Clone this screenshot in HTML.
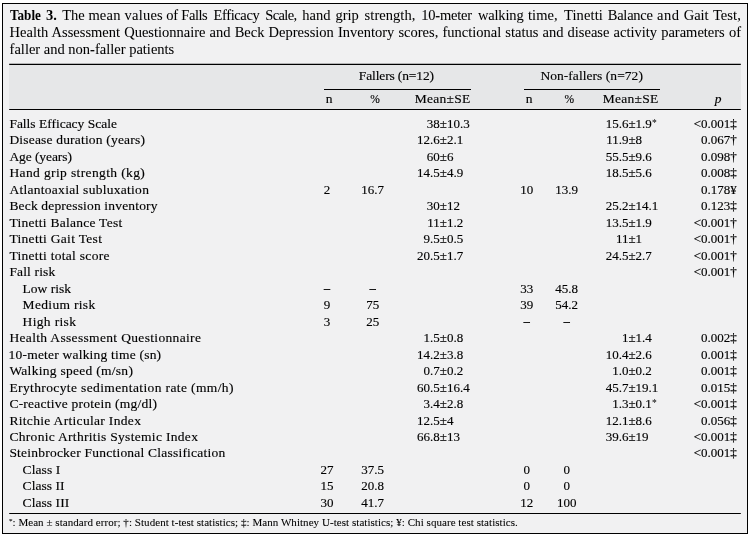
<!DOCTYPE html>
<html><head><meta charset="utf-8"><title>Table 3</title>
<style>
html,body{margin:0;padding:0;background:#fff;}
body{width:750px;height:538px;position:relative;overflow:hidden;font-family:"Liberation Serif",serif;color:#000;}
.box{position:absolute;left:2px;top:3px;width:744px;height:529px;border:1px solid #000;background:#f1f1f2;}
.hd{position:absolute;left:9px;top:64px;width:732px;height:46px;background:#e6e7e8;}
svg.rules{position:absolute;left:0;top:0;}
.txt{position:absolute;left:0;top:0;width:750px;height:538px;will-change:transform;}
.t{position:absolute;white-space:pre;line-height:16px;font-size:13.5px;-webkit-text-stroke:0.15px #000;}
.ti{position:absolute;left:9.6px;width:731.4px;white-space:nowrap;font-size:14.5px;line-height:17px;-webkit-text-stroke:0.05px #000;}
.j{text-align:justify;text-align-last:justify;}
.t b{font-weight:bold;-webkit-text-stroke:0;}
.st{font-size:9.5px;position:relative;top:-2px;margin-left:0.3px;letter-spacing:0;-webkit-text-stroke:0}
.fst{font-size:7px;position:relative;top:-3.4px;letter-spacing:0}
</style></head><body>
<div class="box"></div>
<div class="hd"></div>
<svg class="rules" width="750" height="538" viewBox="0 0 750 538">
<g stroke="#000" stroke-width="1.15" fill="none">
<line x1="9.2" y1="64.45" x2="740.8" y2="64.45"/>
<line x1="9.2" y1="109.45" x2="740.8" y2="109.45"/>
<line x1="9.2" y1="513.45" x2="740.8" y2="513.45"/>
<line x1="324" y1="89.45" x2="471" y2="89.45"/>
<line x1="524" y1="89.45" x2="660" y2="89.45"/>
</g></svg>
<div class="txt">
<span class="t" style="top:7.00px;font-size:14.5px;line-height:17px;-webkit-text-stroke:0.05px #000;left:10.40px;transform:scaleX(0.905);transform-origin:0 0;"><b>Table</b></span>
<span class="t" style="top:7.00px;font-size:14.5px;line-height:17px;-webkit-text-stroke:0.05px #000;left:45.90px;"><b>3.</b></span>
<span class="t" style="top:7.00px;font-size:14.5px;line-height:17px;-webkit-text-stroke:0.05px #000;left:62.20px;letter-spacing:-0.073px;">The</span>
<span class="t" style="top:7.00px;font-size:14.5px;line-height:17px;-webkit-text-stroke:0.05px #000;left:88.40px;letter-spacing:0.198px;">mean</span>
<span class="t" style="top:7.00px;font-size:14.5px;line-height:17px;-webkit-text-stroke:0.05px #000;left:124.60px;letter-spacing:0.211px;">values</span>
<span class="t" style="top:7.00px;font-size:14.5px;line-height:17px;-webkit-text-stroke:0.05px #000;left:166.30px;letter-spacing:-0.294px;">of</span>
<span class="t" style="top:7.00px;font-size:14.5px;line-height:17px;-webkit-text-stroke:0.05px #000;left:181.30px;letter-spacing:-0.451px;">Falls</span>
<span class="t" style="top:7.00px;font-size:14.5px;line-height:17px;-webkit-text-stroke:0.05px #000;left:213.60px;letter-spacing:-0.392px;">Efficacy</span>
<span class="t" style="top:7.00px;font-size:14.5px;line-height:17px;-webkit-text-stroke:0.05px #000;left:265.30px;letter-spacing:-0.646px;">Scale,</span>
<span class="t" style="top:7.00px;font-size:14.5px;line-height:17px;-webkit-text-stroke:0.05px #000;left:302.30px;letter-spacing:-0.029px;">hand</span>
<span class="t" style="top:7.00px;font-size:14.5px;line-height:17px;-webkit-text-stroke:0.05px #000;left:335.60px;letter-spacing:-0.086px;">grip</span>
<span class="t" style="top:7.00px;font-size:14.5px;line-height:17px;-webkit-text-stroke:0.05px #000;left:364.60px;letter-spacing:0.057px;">strength,</span>
<span class="t" style="top:7.00px;font-size:14.5px;line-height:17px;-webkit-text-stroke:0.05px #000;left:421.30px;letter-spacing:-0.221px;">10-meter</span>
<span class="t" style="top:7.00px;font-size:14.5px;line-height:17px;-webkit-text-stroke:0.05px #000;left:477.90px;letter-spacing:-0.153px;">walking</span>
<span class="t" style="top:7.00px;font-size:14.5px;line-height:17px;-webkit-text-stroke:0.05px #000;left:527.90px;letter-spacing:0.098px;">time,</span>
<span class="t" style="top:7.00px;font-size:14.5px;line-height:17px;-webkit-text-stroke:0.05px #000;left:563.90px;letter-spacing:0.141px;">Tinetti</span>
<span class="t" style="top:7.00px;font-size:14.5px;line-height:17px;-webkit-text-stroke:0.05px #000;left:607.80px;letter-spacing:-0.267px;">Balance</span>
<span class="t" style="top:7.00px;font-size:14.5px;line-height:17px;-webkit-text-stroke:0.05px #000;left:657.10px;letter-spacing:0.481px;">and</span>
<span class="t" style="top:7.00px;font-size:14.5px;line-height:17px;-webkit-text-stroke:0.05px #000;left:683.70px;letter-spacing:-0.023px;">Gait</span>
<span class="t" style="top:7.00px;font-size:14.5px;line-height:17px;-webkit-text-stroke:0.05px #000;left:712.90px;letter-spacing:0.080px;">Test,</span>
<div class="ti j" style="top:24.00px">Health Assessment Questionnaire and Beck Depression Inventory scores, functional status and disease activity parameters of</div>
<div class="ti" style="top:41.00px">faller and non-faller patients</div>
<span class="t" style="top:116.00px;left:9.40px;letter-spacing:-0.012px;">Falls Efficacy Scale</span>
<span class="t" style="top:132.00px;left:9.40px;letter-spacing:0.187px;">Disease duration (years)</span>
<span class="t" style="top:149.00px;left:9.40px;letter-spacing:-0.084px;">Age (years)</span>
<span class="t" style="top:165.00px;left:9.40px;letter-spacing:0.381px;">Hand grip strength (kg)</span>
<span class="t" style="top:182.00px;left:9.40px;letter-spacing:0.278px;">Atlantoaxial subluxation</span>
<span class="t" style="top:198.00px;left:9.40px;letter-spacing:0.172px;">Beck depression inventory</span>
<span class="t" style="top:215.00px;left:9.40px;letter-spacing:0.263px;">Tinetti Balance Test</span>
<span class="t" style="top:231.00px;left:9.40px;letter-spacing:0.308px;">Tinetti Gait Test</span>
<span class="t" style="top:248.00px;left:9.40px;letter-spacing:0.297px;">Tinetti total score</span>
<span class="t" style="top:264.00px;left:9.40px;letter-spacing:0.145px;">Fall risk</span>
<span class="t" style="top:281.00px;left:22.60px;letter-spacing:-0.011px;">Low risk</span>
<span class="t" style="top:297.00px;left:22.60px;letter-spacing:0.322px;">Medium risk</span>
<span class="t" style="top:314.00px;left:22.60px;letter-spacing:0.334px;">High risk</span>
<span class="t" style="top:330.00px;left:9.40px;letter-spacing:0.334px;">Health Assessment Questionnaire</span>
<span class="t" style="top:347.00px;left:8.60px;letter-spacing:0.206px;">10-meter walking time (sn)</span>
<span class="t" style="top:363.00px;left:9.40px;letter-spacing:0.282px;">Walking speed (m/sn)</span>
<span class="t" style="top:380.00px;left:9.40px;letter-spacing:0.383px;">Erythrocyte sedimentation rate (mm/h)</span>
<span class="t" style="top:396.00px;left:9.40px;letter-spacing:0.232px;">C-reactive protein (mg/dl)</span>
<span class="t" style="top:413.00px;left:9.40px;letter-spacing:0.320px;">Ritchie Articular Index</span>
<span class="t" style="top:429.00px;left:9.40px;letter-spacing:0.311px;">Chronic Arthritis Systemic Index</span>
<span class="t" style="top:445.00px;left:9.40px;letter-spacing:0.218px;">Steinbrocker Functional Classification</span>
<span class="t" style="top:462.00px;left:22.60px;letter-spacing:0.079px;">Class I</span>
<span class="t" style="top:478.00px;left:22.60px;letter-spacing:0.039px;">Class II</span>
<span class="t" style="top:495.00px;left:22.60px;letter-spacing:0.059px;">Class III</span>
<span class="t" style="top:116.00px;font-size:13px;right:310.20px;">38</span>
<span class="t" style="top:116.00px;font-size:13px;left:439.80px;">±10.3</span>
<span class="t" style="top:116.00px;font-size:13px;right:121.60px;">15.6</span>
<span class="t" style="top:116.00px;font-size:13px;left:628.40px;">±1.9<span class="st">*</span></span>
<span class="t" style="top:116.00px;font-size:13px;right:13.20px;">&lt;0.001‡</span>
<span class="t" style="top:132.00px;font-size:13px;right:310.20px;">12.6</span>
<span class="t" style="top:132.00px;font-size:13px;left:439.80px;">±2.1</span>
<span class="t" style="top:132.00px;font-size:13px;right:121.60px;">11.9</span>
<span class="t" style="top:132.00px;font-size:13px;left:628.40px;">±8</span>
<span class="t" style="top:132.00px;font-size:13px;right:13.20px;">0.067†</span>
<span class="t" style="top:149.00px;font-size:13px;right:310.20px;">60</span>
<span class="t" style="top:149.00px;font-size:13px;left:439.80px;">±6</span>
<span class="t" style="top:149.00px;font-size:13px;right:121.60px;">55.5</span>
<span class="t" style="top:149.00px;font-size:13px;left:628.40px;">±9.6</span>
<span class="t" style="top:149.00px;font-size:13px;right:13.20px;">0.098†</span>
<span class="t" style="top:165.00px;font-size:13px;right:310.20px;">14.5</span>
<span class="t" style="top:165.00px;font-size:13px;left:439.80px;">±4.9</span>
<span class="t" style="top:165.00px;font-size:13px;right:121.60px;">18.5</span>
<span class="t" style="top:165.00px;font-size:13px;left:628.40px;">±5.6</span>
<span class="t" style="top:165.00px;font-size:13px;right:13.20px;">0.008‡</span>
<span class="t" style="top:182.00px;font-size:13px;left:287.00px;width:80px;text-align:center;">2</span>
<span class="t" style="top:182.00px;font-size:13px;left:332.70px;width:80px;text-align:center;">16.7</span>
<span class="t" style="top:182.00px;font-size:13px;left:486.70px;width:80px;text-align:center;">10</span>
<span class="t" style="top:182.00px;font-size:13px;left:526.70px;width:80px;text-align:center;">13.9</span>
<span class="t" style="top:182.00px;font-size:13px;right:13.20px;">0.178¥</span>
<span class="t" style="top:198.00px;font-size:13px;right:310.20px;">30</span>
<span class="t" style="top:198.00px;font-size:13px;left:439.80px;">±12</span>
<span class="t" style="top:198.00px;font-size:13px;right:121.60px;">25.2</span>
<span class="t" style="top:198.00px;font-size:13px;left:628.40px;">±14.1</span>
<span class="t" style="top:198.00px;font-size:13px;right:13.20px;">0.123‡</span>
<span class="t" style="top:215.00px;font-size:13px;right:310.20px;">11</span>
<span class="t" style="top:215.00px;font-size:13px;left:439.80px;">±1.2</span>
<span class="t" style="top:215.00px;font-size:13px;right:121.60px;">13.5</span>
<span class="t" style="top:215.00px;font-size:13px;left:628.40px;">±1.9</span>
<span class="t" style="top:215.00px;font-size:13px;right:13.20px;">&lt;0.001†</span>
<span class="t" style="top:231.00px;font-size:13px;right:310.20px;">9.5</span>
<span class="t" style="top:231.00px;font-size:13px;left:439.80px;">±0.5</span>
<span class="t" style="top:231.00px;font-size:13px;right:121.60px;">11</span>
<span class="t" style="top:231.00px;font-size:13px;left:628.40px;">±1</span>
<span class="t" style="top:231.00px;font-size:13px;right:13.20px;">&lt;0.001†</span>
<span class="t" style="top:248.00px;font-size:13px;right:310.20px;">20.5</span>
<span class="t" style="top:248.00px;font-size:13px;left:439.80px;">±1.7</span>
<span class="t" style="top:248.00px;font-size:13px;right:121.60px;">24.5</span>
<span class="t" style="top:248.00px;font-size:13px;left:628.40px;">±2.7</span>
<span class="t" style="top:248.00px;font-size:13px;right:13.20px;">&lt;0.001†</span>
<span class="t" style="top:264.00px;font-size:13px;right:13.20px;">&lt;0.001†</span>
<span class="t" style="top:280.00px;font-size:12px;left:287.00px;width:80px;text-align:center;-webkit-text-stroke:0.4px #000;">–</span>
<span class="t" style="top:280.00px;font-size:12px;left:332.70px;width:80px;text-align:center;-webkit-text-stroke:0.4px #000;">–</span>
<span class="t" style="top:281.00px;font-size:13px;left:486.70px;width:80px;text-align:center;">33</span>
<span class="t" style="top:281.00px;font-size:13px;left:526.70px;width:80px;text-align:center;">45.8</span>
<span class="t" style="top:297.00px;font-size:13px;left:287.00px;width:80px;text-align:center;">9</span>
<span class="t" style="top:297.00px;font-size:13px;left:332.70px;width:80px;text-align:center;">75</span>
<span class="t" style="top:297.00px;font-size:13px;left:486.70px;width:80px;text-align:center;">39</span>
<span class="t" style="top:297.00px;font-size:13px;left:526.70px;width:80px;text-align:center;">54.2</span>
<span class="t" style="top:314.00px;font-size:13px;left:287.00px;width:80px;text-align:center;">3</span>
<span class="t" style="top:314.00px;font-size:13px;left:332.70px;width:80px;text-align:center;">25</span>
<span class="t" style="top:313.00px;font-size:12px;left:486.70px;width:80px;text-align:center;-webkit-text-stroke:0.4px #000;">–</span>
<span class="t" style="top:313.00px;font-size:12px;left:526.70px;width:80px;text-align:center;-webkit-text-stroke:0.4px #000;">–</span>
<span class="t" style="top:330.00px;font-size:13px;right:310.20px;">1.5</span>
<span class="t" style="top:330.00px;font-size:13px;left:439.80px;">±0.8</span>
<span class="t" style="top:330.00px;font-size:13px;right:121.60px;">1</span>
<span class="t" style="top:330.00px;font-size:13px;left:628.40px;">±1.4</span>
<span class="t" style="top:330.00px;font-size:13px;right:13.20px;">0.002‡</span>
<span class="t" style="top:347.00px;font-size:13px;right:310.20px;">14.2</span>
<span class="t" style="top:347.00px;font-size:13px;left:439.80px;">±3.8</span>
<span class="t" style="top:347.00px;font-size:13px;right:121.60px;">10.4</span>
<span class="t" style="top:347.00px;font-size:13px;left:628.40px;">±2.6</span>
<span class="t" style="top:347.00px;font-size:13px;right:13.20px;">0.001‡</span>
<span class="t" style="top:363.00px;font-size:13px;right:310.20px;">0.7</span>
<span class="t" style="top:363.00px;font-size:13px;left:439.80px;">±0.2</span>
<span class="t" style="top:363.00px;font-size:13px;right:121.60px;">1.0</span>
<span class="t" style="top:363.00px;font-size:13px;left:628.40px;">±0.2</span>
<span class="t" style="top:363.00px;font-size:13px;right:13.20px;">0.001‡</span>
<span class="t" style="top:380.00px;font-size:13px;right:310.20px;">60.5</span>
<span class="t" style="top:380.00px;font-size:13px;left:439.80px;">±16.4</span>
<span class="t" style="top:380.00px;font-size:13px;right:121.60px;">45.7</span>
<span class="t" style="top:380.00px;font-size:13px;left:628.40px;">±19.1</span>
<span class="t" style="top:380.00px;font-size:13px;right:13.20px;">0.015‡</span>
<span class="t" style="top:396.00px;font-size:13px;right:310.20px;">3.4</span>
<span class="t" style="top:396.00px;font-size:13px;left:439.80px;">±2.8</span>
<span class="t" style="top:396.00px;font-size:13px;right:121.60px;">1.3</span>
<span class="t" style="top:396.00px;font-size:13px;left:628.40px;">±0.1<span class="st">*</span></span>
<span class="t" style="top:396.00px;font-size:13px;right:13.20px;">&lt;0.001‡</span>
<span class="t" style="top:413.00px;font-size:13px;right:310.20px;">12.5</span>
<span class="t" style="top:413.00px;font-size:13px;left:439.80px;">±4</span>
<span class="t" style="top:413.00px;font-size:13px;right:121.60px;">12.1</span>
<span class="t" style="top:413.00px;font-size:13px;left:628.40px;">±8.6</span>
<span class="t" style="top:413.00px;font-size:13px;right:13.20px;">0.056‡</span>
<span class="t" style="top:429.00px;font-size:13px;right:310.20px;">66.8</span>
<span class="t" style="top:429.00px;font-size:13px;left:439.80px;">±13</span>
<span class="t" style="top:429.00px;font-size:13px;right:121.60px;">39.6</span>
<span class="t" style="top:429.00px;font-size:13px;left:628.40px;">±19</span>
<span class="t" style="top:429.00px;font-size:13px;right:13.20px;">&lt;0.001‡</span>
<span class="t" style="top:445.00px;font-size:13px;right:13.20px;">&lt;0.001‡</span>
<span class="t" style="top:462.00px;font-size:13px;left:287.00px;width:80px;text-align:center;">27</span>
<span class="t" style="top:462.00px;font-size:13px;left:332.70px;width:80px;text-align:center;">37.5</span>
<span class="t" style="top:462.00px;font-size:13px;left:486.70px;width:80px;text-align:center;">0</span>
<span class="t" style="top:462.00px;font-size:13px;left:526.70px;width:80px;text-align:center;">0</span>
<span class="t" style="top:478.00px;font-size:13px;left:287.00px;width:80px;text-align:center;">15</span>
<span class="t" style="top:478.00px;font-size:13px;left:332.70px;width:80px;text-align:center;">20.8</span>
<span class="t" style="top:478.00px;font-size:13px;left:486.70px;width:80px;text-align:center;">0</span>
<span class="t" style="top:478.00px;font-size:13px;left:526.70px;width:80px;text-align:center;">0</span>
<span class="t" style="top:495.00px;font-size:13px;left:287.00px;width:80px;text-align:center;">30</span>
<span class="t" style="top:495.00px;font-size:13px;left:332.70px;width:80px;text-align:center;">41.7</span>
<span class="t" style="top:495.00px;font-size:13px;left:486.70px;width:80px;text-align:center;">12</span>
<span class="t" style="top:495.00px;font-size:13px;left:526.70px;width:80px;text-align:center;">100</span>
<span class="t" style="top:68.00px;left:358.80px;letter-spacing:-0.130px;">Fallers (n=12)</span>
<span class="t" style="top:68.00px;left:540.40px;letter-spacing:0.046px;">Non-fallers (n=72)</span>
<span class="t" style="top:91.00px;left:325.80px;">n</span>
<span class="t" style="top:91.00px;font-size:11.5px;left:370.20px;">%</span>
<span class="t" style="top:91.00px;left:414.70px;letter-spacing:0.282px;">Mean±SE</span>
<span class="t" style="top:91.00px;left:525.80px;">n</span>
<span class="t" style="top:91.00px;font-size:11.5px;left:564.60px;">%</span>
<span class="t" style="top:91.00px;left:602.70px;letter-spacing:0.282px;">Mean±SE</span>
<span class="t" style="top:91.00px;left:714.80px;"><i>p</i></span>
<span class="t" style="top:516.00px;font-size:11px;line-height:12px;-webkit-text-stroke:0.08px #000;left:9.00px;letter-spacing:0.051px;"><span class="fst">*</span>: Mean ± standard error; †: Student t-test statistics; ‡: Mann Whitney U-test statistics; ¥: Chi square test statistics.</span>
</div>
</body></html>
